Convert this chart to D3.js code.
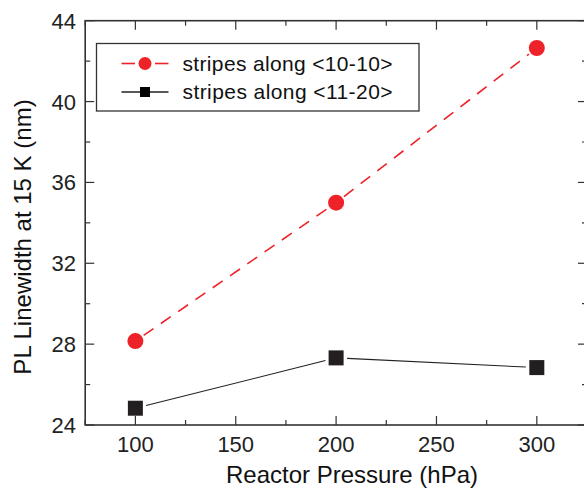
<!DOCTYPE html>
<html>
<head>
<meta charset="utf-8">
<script src="https://cdn.jsdelivr.net/npm/d3@7"></script>
<style>
  body { margin: 0; background: #fff; }
  svg { display: block; font-family: "Liberation Sans", Arial, sans-serif; }
</style>
</head>
<body>
<div id="chart"></div>
<script>
// Data
const pressures = [100, 200, 300];
const stripes1010 = [28.15, 35.0, 42.65];
const stripes1120 = [24.83, 27.32, 26.84];
const seriesNames = ["stripes along <10-10>", "stripes along <11-20>"];
const xMajorTicks = [100, 150, 200, 250, 300];
const xMinorTicks = [75, 125, 175, 225, 275, 325];
const yMajorTicks = [24, 28, 32, 36, 40, 44];
const yMinorTicks = [26, 30, 34, 38, 42];

const W = 584, H = 490;
const RED = "#ee2229", BLACK = "#231f20", AXIS = "#333";

const svg = d3.select("#chart").append("svg")
    .attr("width", W)
    .attr("height", H);

const x = d3.scaleLinear().domain([75, 325]).range([85.2, 587]);
const y = d3.scaleLinear().domain([24, 44]).range([425, 20.7]);

const [x0, x1] = x.range();
const [yb, yt] = y.range();

// Ticks on all four sides, pointing inward
const tickG = svg.append("g").attr("stroke", AXIS).attr("stroke-width", 1.2);
function ticks(vals, len) {
    vals.forEach(v => {
        tickG.append("line").attr("x1", x(v)).attr("x2", x(v)).attr("y1", yb).attr("y2", yb - len);
        tickG.append("line").attr("x1", x(v)).attr("x2", x(v)).attr("y1", yt).attr("y2", yt + len);
    });
}
function yticks(vals, len) {
    vals.forEach(v => {
        tickG.append("line").attr("y1", y(v)).attr("y2", y(v)).attr("x1", x0).attr("x2", x0 + len);
        tickG.append("line").attr("y1", y(v)).attr("y2", y(v)).attr("x1", x1).attr("x2", x1 - len);
    });
}
ticks(xMajorTicks, 9);
ticks(xMinorTicks, 5);
yticks(yMajorTicks, 9);
yticks(yMinorTicks, 5);

// Frame
svg.append("rect")
    .attr("x", x0).attr("y", yt)
    .attr("width", x1 - x0).attr("height", yb - yt)
    .attr("fill", "none")
    .attr("stroke", AXIS)
    .attr("stroke-width", 1.6);

// Tick labels
svg.append("g").selectAll("text")
    .data(xMajorTicks)
    .join("text")
    .attr("x", d => x(d))
    .attr("y", 452)
    .attr("text-anchor", "middle")
    .attr("font-size", 22)
    .attr("fill", "#222")
    .text(d => d);

svg.append("g").selectAll("text")
    .data(yMajorTicks)
    .join("text")
    .attr("x", 76)
    .attr("y", d => y(d) + 8)
    .attr("text-anchor", "end")
    .attr("font-size", 22)
    .attr("fill", "#222")
    .text(d => d);

// Axis titles
svg.append("text")
    .attr("x", 352)
    .attr("y", 483)
    .attr("text-anchor", "middle")
    .attr("font-size", 24)
    .attr("fill", "#111")
    .text("Reactor Pressure (hPa)");

svg.append("text")
    .attr("transform", "translate(31,237) rotate(-90)")
    .attr("text-anchor", "middle")
    .attr("font-size", 24)
    .attr("fill", "#111")
    .text("PL Linewidth at 15 K (nm)");

// Connecting lines with a small gap at each marker
function gapLines(vals, color, width, dash, gap) {
    const pts = pressures.map((p, i) => [x(p), y(vals[i])]);
    for (let i = 0; i < pts.length - 1; i++) {
        const [ax, ay] = pts[i], [bx, by] = pts[i + 1];
        const len = Math.hypot(bx - ax, by - ay);
        const ux = (bx - ax) / len, uy = (by - ay) / len;
        svg.append("line")
            .attr("x1", ax + ux * gap).attr("y1", ay + uy * gap)
            .attr("x2", bx - ux * gap).attr("y2", by - uy * gap)
            .attr("stroke", color)
            .attr("stroke-width", width)
            .attr("stroke-dasharray", dash);
    }
}
gapLines(stripes1010, RED, 1.6, "12,9", 10);
gapLines(stripes1120, BLACK, 1.1, null, 11);

// Markers
svg.append("g").selectAll("circle")
    .data(stripes1010)
    .join("circle")
    .attr("cx", (d, i) => x(pressures[i]))
    .attr("cy", d => y(d))
    .attr("r", 8)
    .attr("fill", RED);

const sq = 15;
svg.append("g").selectAll("rect")
    .data(stripes1120)
    .join("rect")
    .attr("x", (d, i) => x(pressures[i]) - sq / 2)
    .attr("y", d => y(d) - sq / 2)
    .attr("width", sq)
    .attr("height", sq)
    .attr("fill", BLACK);

// Legend
const legend = svg.append("g");
legend.append("rect")
    .attr("x", 96.5).attr("y", 43.5)
    .attr("width", 322.5).attr("height", 67.5)
    .attr("fill", "#fff")
    .attr("stroke", AXIS)
    .attr("stroke-width", 1.3);

const rowsY = [63.5, 92];
// red row
legend.append("line").attr("x1", 121.5).attr("x2", 135).attr("y1", rowsY[0]).attr("y2", rowsY[0])
    .attr("stroke", RED).attr("stroke-width", 1.6);
legend.append("line").attr("x1", 155).attr("x2", 168.5).attr("y1", rowsY[0]).attr("y2", rowsY[0])
    .attr("stroke", RED).attr("stroke-width", 1.6);
legend.append("circle").attr("cx", 145).attr("cy", rowsY[0]).attr("r", 6.5).attr("fill", RED);
// black row
legend.append("line").attr("x1", 121.5).attr("x2", 168.5).attr("y1", rowsY[1]).attr("y2", rowsY[1])
    .attr("stroke", BLACK).attr("stroke-width", 1.6);
legend.append("rect").attr("x", 140).attr("y", rowsY[1] - 5).attr("width", 10).attr("height", 10).attr("fill", "#000");

legend.selectAll("text.lab")
    .data(seriesNames)
    .join("text")
    .attr("class", "lab")
    .attr("x", 182.5)
    .attr("y", (d, i) => rowsY[i] + 7)
    .attr("font-size", 21)
    .attr("textLength", 210)
    .attr("fill", "#111")
    .text(d => d);
</script>
</body>
</html>
